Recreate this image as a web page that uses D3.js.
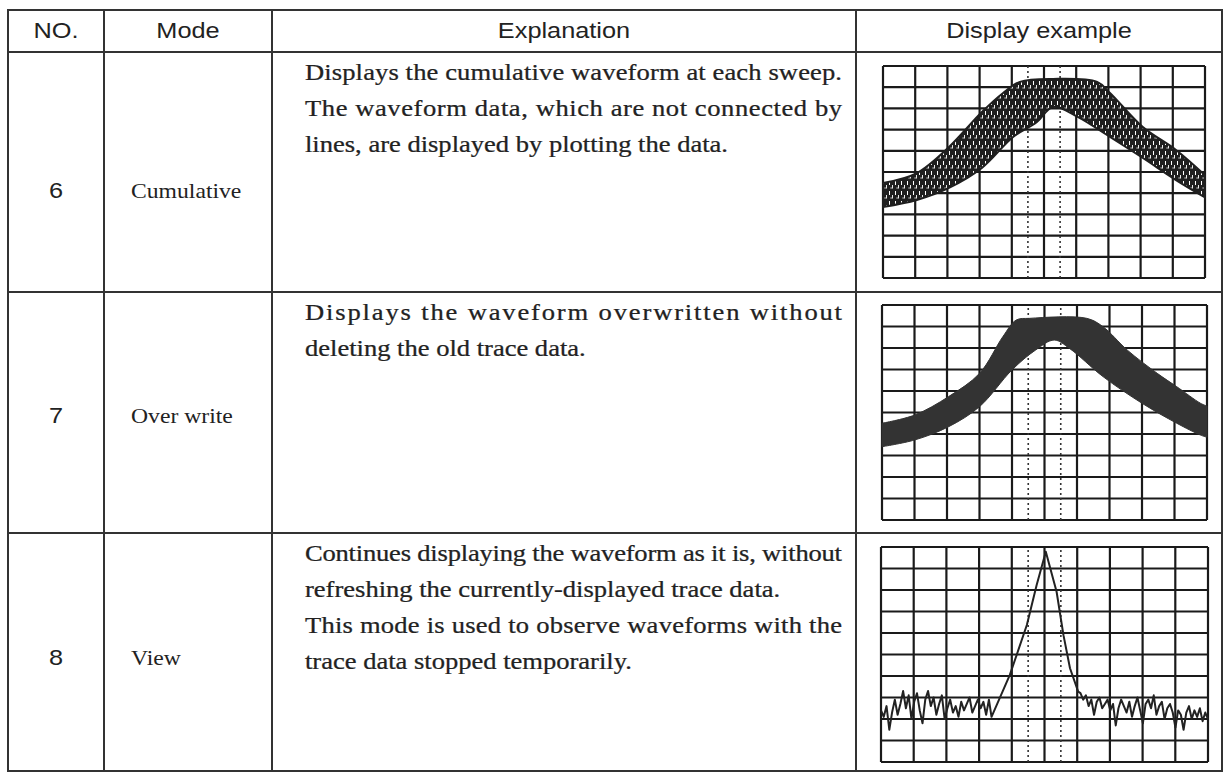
<!DOCTYPE html>
<html><head><meta charset="utf-8">
<script src="https://cdn.jsdelivr.net/npm/d3@7"></script>
<style>body{margin:0;background:#fff}svg{display:block}</style>
</head><body><svg id="c" width="1225" height="772"></svg>
<script>
// ---------- data ----------
const headers = ["NO.", "Mode", "Explanation", "Display example"];
const modeNos = ["6", "7", "8"];
const modeNames = ["Cumulative", "Over write", "View"];
const explanations = [
  ["Displays the cumulative waveform at each sweep.",
   "The waveform data, which are not connected by",
   "lines, are displayed by plotting the data."],
  ["Displays the waveform overwritten without",
   "deleting the old trace data."],
  ["Continues displaying the waveform as it is, without",
   "refreshing the currently-displayed trace data.",
   "This mode is used to observe waveforms with the",
   "trace data stopped temporarily."]
];
const justified = [[true, true, false], [true, false], [true, false, true, false]];

// waveform values in screen divisions (x 0..10, y 0..10)
const cumulativeUpper = [[0,4.48],[1.05,4.95],[2.05,6.18],[3.07,7.83],[3.73,8.73],[4.25,9.25],[5.28,9.39],[6.65,9.25],[7.05,8.73],[8.07,7.12],[9.1,6.04],[10,4.85]];
const cumulativeLower = [[0,3.35],[1.05,3.68],[2.05,4.25],[3.07,5.19],[4.04,6.65],[4.78,7.36],[5.28,8.07],[6.06,7.59],[7.05,6.65],[8.07,5.66],[9.1,4.62],[10,3.8]];
const overwriteUpper = [[0,4.5],[1,4.88],[2.05,5.74],[3,6.82],[3.72,8.53],[4.13,9.3],[4.55,9.38],[6.3,9.38],[6.8,8.99],[7.55,7.9],[8.47,6.82],[9.07,6.2],[9.8,5.43],[10,5.3]];
const overwriteLower = [[0,3.41],[1,3.72],[2.05,4.34],[3,5.27],[4,6.98],[4.73,7.91],[5.3,8.37],[5.77,7.98],[6.8,6.67],[8,5.43],[9.07,4.5],[9.8,3.95],[10,3.85]];
const viewNoiseLeft = [2.4,2.1,2.6,1.5,2.3,2.9,2.2,2.7,3.3,2.5,3.1,2.0,2.8,3.2,2.4,1.8,2.9,3.3,2.6,3.0,2.2,2.7,3.1,2.0,2.5,2.9,2.3,2.6,2.1,2.8,2.4,2.7,3.0,2.3,2.6,2.9,2.5,2.8,2.2,2.9];
const viewPeak = [[3.38,2.1],[3.94,4.05],[4.46,6.37],[4.76,8.23],[5.04,9.78],[5.37,7.92],[5.58,5.9],[5.78,4.36],[6.03,3.27]];
const viewNoiseRight = [3.2,2.9,3.1,2.6,2.9,2.2,2.8,3.0,2.5,2.7,2.9,2.4,2.7,1.7,2.5,2.9,2.6,2.3,2.8,2.1,2.6,3.0,2.4,1.8,2.7,2.9,2.5,3.1,2.2,2.6,2.8,2.0,2.5,2.7,2.3,1.6,2.4,2.2,1.5,2.3,2.6,2.0,2.4,2.1,2.5,1.9,2.3,2.0];
const gridDivs = d3.range(0, 11);
const centerMarks = [4.5, 5.5];

// ---------- layout ----------
const svg = d3.select("#c");
const ink = "#222";
const T = {left: 8, right: 1222, top: 10, bottom: 771};
const colX = [8, 104, 272, 856, 1222];
const rowY = [10, 52, 292, 533, 771];
const SANS_STRETCH = 1.15, SERIF_STRETCH = 1.18;
const textStart = 305, textEnd = 842;
const lineGap = 36;
const chartBoxes = [
  {x0: 883, x1: 1205, y0: 66, y1: 278},
  {x0: 882, x1: 1207, y0: 305, y1: 520},
  {x0: 881, x1: 1208, y0: 547, y1: 762}
];

const defs = svg.append("defs");
const pat = defs.append("pattern").attr("id", "speck").attr("width", 6).attr("height", 10)
  .attr("patternUnits", "userSpaceOnUse");
pat.append("rect").attr("width", 6).attr("height", 10).attr("fill", "#1f1f1f");
[[1,1,1,4],[4,5,0.9,3.5],[2.5,7.5,1.2,1]].forEach(r =>
  pat.append("rect").attr("x", r[0]).attr("y", r[1]).attr("width", r[2]).attr("height", r[3]).attr("fill", "#fff"));

function stretch(sel, factor) {
  sel.each(function () {
    const L = this.getComputedTextLength();
    d3.select(this).attr("textLength", L * factor).attr("lengthAdjust", "spacingAndGlyphs");
  });
}

// table lines
const tbl = svg.append("g").attr("stroke", "#333").attr("stroke-width", 2).attr("fill", "none");
tbl.append("rect").attr("x", T.left).attr("y", T.top).attr("width", T.right - T.left).attr("height", T.bottom - T.top);
colX.slice(1, -1).forEach(x => tbl.append("line").attr("x1", x).attr("x2", x).attr("y1", T.top).attr("y2", T.bottom));
rowY.slice(1, -1).forEach(y => tbl.append("line").attr("x1", T.left).attr("x2", T.right).attr("y1", y).attr("y2", y));

// headers
headers.forEach((h, i) => {
  const t = svg.append("text").attr("x", (colX[i] + colX[i + 1]) / 2).attr("y", 38)
    .attr("text-anchor", "middle").attr("font-family", "Liberation Sans, Arial, sans-serif")
    .attr("font-size", 22).attr("fill", ink).text(h);
  stretch(t, SANS_STRETCH);
});

const modeBaselines = [198, 423, 665];
modeNos.forEach((n, i) => {
  const t = svg.append("text").attr("x", (colX[0] + colX[1]) / 2).attr("y", modeBaselines[i])
    .attr("text-anchor", "middle").attr("font-family", "Liberation Sans, Arial, sans-serif")
    .attr("font-size", 22).attr("fill", ink).text(n);
  stretch(t, SANS_STRETCH);
  const m = svg.append("text").attr("x", 131).attr("y", modeBaselines[i])
    .attr("font-family", "Liberation Serif, Times New Roman, serif")
    .attr("font-size", 21.5).attr("fill", ink).text(modeNames[i]);
  stretch(m, 1.1);
});

explanations.forEach((lines, r) => {
  lines.forEach((ln, k) => {
    const g = svg.append("g")
      .attr("transform", `translate(${textStart},${rowY[r + 1] + 28 + k * lineGap}) scale(${SERIF_STRETCH},1)`);
    const t = g.append("text").attr("x", 0).attr("y", 0)
      .attr("font-family", "Liberation Serif, Times New Roman, serif")
      .attr("font-size", 22.5).attr("fill", ink)
      .attr("stroke", ink).attr("stroke-width", 0.25).text(ln);
    if (justified[r][k]) t.attr("textLength", (textEnd - textStart) / SERIF_STRETCH).attr("lengthAdjust", "spacing");
  });
});

// charts
function drawGrid(g, xs, ys) {
  g.append("g").selectAll("line").data(gridDivs).join("line")
    .attr("x1", d => xs(d)).attr("x2", d => xs(d)).attr("y1", ys(0)).attr("y2", ys(10))
    .attr("stroke", "#1a1a1a").attr("stroke-width", 2.2);
  g.append("g").selectAll("line").data(gridDivs).join("line")
    .attr("x1", xs(0)).attr("x2", xs(10)).attr("y1", d => ys(d)).attr("y2", d => ys(d))
    .attr("stroke", "#1a1a1a").attr("stroke-width", 2.2);
  g.append("g").selectAll("line").data(centerMarks).join("line")
    .attr("x1", d => xs(d)).attr("x2", d => xs(d)).attr("y1", ys(0)).attr("y2", ys(10))
    .attr("stroke", "#333").attr("stroke-width", 1.6).attr("stroke-dasharray", "2,3");
}
function bandPath(upper, lower, xs, ys) {
  const line = d3.line().x(d => xs(d[0])).y(d => ys(d[1])).curve(d3.curveCatmullRom);
  return line(upper) + line(lower.slice().reverse()).replace(/^M/, "L") + "Z";
}

chartBoxes.forEach((b, i) => {
  const xs = d3.scaleLinear().domain([0, 10]).range([b.x0, b.x1]);
  const ys = d3.scaleLinear().domain([0, 10]).range([b.y1, b.y0]);
  const g = svg.append("g");
  drawGrid(g, xs, ys);
  if (i === 0) {
    g.append("path").attr("d", bandPath(cumulativeUpper, cumulativeLower, xs, ys))
      .attr("fill", "url(#speck)").attr("stroke", "#1f1f1f").attr("stroke-width", 2);
  } else if (i === 1) {
    g.append("path").attr("d", bandPath(overwriteUpper, overwriteLower, xs, ys))
      .attr("fill", "#333").attr("stroke", "#333").attr("stroke-width", 1);
  } else {
    const lx = d3.scaleLinear().domain([0, viewNoiseLeft.length - 1]).range([0, 3.3]);
    const rx = d3.scaleLinear().domain([0, viewNoiseRight.length - 1]).range([6.1, 10]);
    const pts = viewNoiseLeft.map((v, k) => [lx(k), v])
      .concat(viewPeak)
      .concat(viewNoiseRight.map((v, k) => [rx(k), v]));
    g.append("path").attr("d", d3.line().x(d => xs(d[0])).y(d => ys(d[1]))(pts))
      .attr("fill", "none").attr("stroke", "#222").attr("stroke-width", 2).attr("stroke-linejoin", "round");
  }
});
</script></body></html>
